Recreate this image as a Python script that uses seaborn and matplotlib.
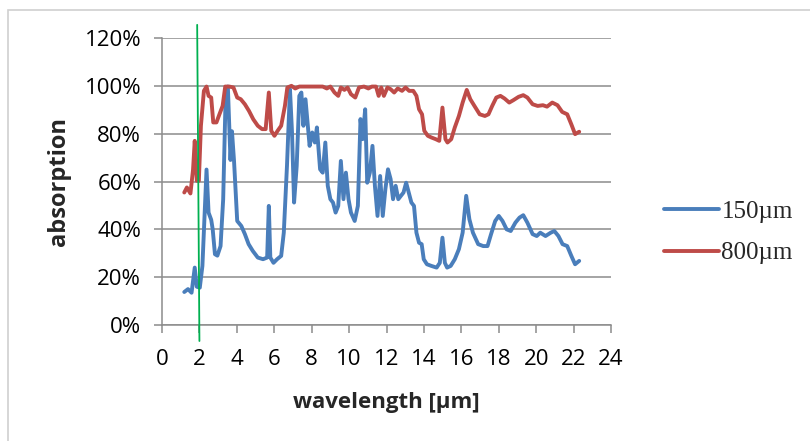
import numpy as np
import pandas as pd
import matplotlib
matplotlib.use("Agg")
import matplotlib.pyplot as plt
import seaborn as sns
from matplotlib.ticker import PercentFormatter, MultipleLocator
from matplotlib.patches import Rectangle

# ------------------------------
# Data
# ------------------------------
wl_150 = [1.19, 1.39, 1.58, 1.75, 1.86, 2.02, 2.16, 2.38, 2.49, 2.63, 2.71, 2.83, 2.96,
          3.13, 3.27, 3.41, 3.52, 3.66, 3.74, 3.85, 4.02, 4.24, 4.43, 4.63, 4.85, 5.12,
          5.40, 5.62, 5.71, 5.79, 5.96, 6.15, 6.37, 6.51, 6.68, 6.84, 6.95, 7.06, 7.20,
          7.34, 7.45, 7.56, 7.67, 7.81, 7.89, 8.03, 8.17, 8.28, 8.45, 8.59, 8.73, 8.86,
          9.00, 9.14, 9.28, 9.42, 9.56, 9.70, 9.83, 9.97, 10.10, 10.30, 10.47, 10.61,
          10.72, 10.86, 10.97, 11.11, 11.25, 11.38, 11.52, 11.66, 11.80, 11.94, 12.08,
          12.22, 12.35, 12.49, 12.63, 12.77, 12.91, 13.05, 13.19, 13.33, 13.47, 13.60,
          13.74, 13.88, 13.99, 14.16, 14.40, 14.68, 14.85, 14.99, 15.12, 15.24, 15.43,
          15.65, 15.87, 16.07, 16.26, 16.43, 16.62, 16.90, 17.17, 17.40, 17.59, 17.81,
          18.00, 18.20, 18.42, 18.64, 18.89, 19.11, 19.31, 19.53, 19.81, 20.03, 20.22,
          20.50, 20.78, 20.97, 21.19, 21.41, 21.66, 21.88, 22.08, 22.30]
abs_150 = [13.8, 15.0, 13.5, 24.0, 16.0, 15.6, 24.7, 65.0, 47.0, 44.0, 40.0, 29.6, 29.0,
           33.0, 52.6, 98.6, 99.7, 69.0, 81.0, 68.6, 43.5, 41.4, 38.0, 33.8, 31.0, 28.2,
           27.5, 28.2, 49.8, 28.2, 26.0, 27.5, 28.9, 38.6, 66.5, 98.6, 80.5, 51.2, 66.5,
           95.8, 97.2, 83.3, 94.4, 81.9, 74.9, 80.5, 76.3, 82.6, 65.1, 63.7, 76.3, 58.2,
           52.6, 51.2, 47.0, 49.8, 68.6, 52.6, 63.7, 52.6, 47.0, 43.5, 49.8, 86.1,
           77.7, 90.2, 59.5, 63.7, 74.9, 58.2, 45.6, 62.3, 45.6, 56.8, 65.1,
           61.0, 52.6, 58.2, 52.6, 54.0, 55.4, 59.5, 55.4, 51.2, 49.8, 38.6,
           34.4, 33.8, 27.5, 25.4, 24.7, 24.0, 26.0, 36.5, 26.0, 24.0, 24.7,
           27.5, 31.7, 38.6, 54.0, 44.2, 38.6, 33.8, 33.0, 33.0, 38.0, 43.5,
           45.6, 43.5, 40.0, 39.3, 42.8, 44.9, 45.9, 42.8, 38.0, 37.2, 38.6,
           37.2, 38.6, 39.3, 37.2, 33.8, 33.0, 28.9, 25.4, 26.8]

wl_800 = [1.19, 1.33, 1.52, 1.66, 1.75, 1.86, 1.97, 2.08, 2.24, 2.38, 2.49, 2.63, 2.74,
          2.91, 3.07, 3.24, 3.38, 3.60, 3.82, 4.02, 4.21, 4.43, 4.65, 4.88, 5.12, 5.35,
          5.54, 5.71, 5.84, 6.01, 6.18, 6.37, 6.57, 6.70, 6.92, 7.12, 7.34, 7.76, 8.17,
          8.59, 8.81, 9.00, 9.22, 9.42, 9.56, 9.75, 9.92, 10.10, 10.33, 10.53, 10.80,
          11.03, 11.22, 11.44, 11.58, 11.72, 11.86, 12.05, 12.22, 12.41, 12.60, 12.83,
          13.02, 13.21, 13.43, 13.60, 13.74, 13.90, 14.02, 14.21, 14.40, 14.63, 14.82,
          14.99, 15.15, 15.26, 15.46, 15.65, 15.87, 16.07, 16.29, 16.48, 16.70, 16.98,
          17.26, 17.45, 17.65, 17.87, 18.09, 18.31, 18.56, 18.78, 19.06, 19.31, 19.53,
          19.81, 20.08, 20.36, 20.58, 20.86, 21.14, 21.39, 21.66, 21.88, 22.08, 22.30]
abs_800 = [55.4, 57.5, 55.0, 65.0, 77.0, 60.3, 60.3, 83.3, 97.9, 99.7, 95.8, 95.1, 84.7,
           84.7, 88.1, 91.6, 99.7, 99.7, 99.3, 95.1, 94.4, 92.3, 89.5, 86.0, 83.3, 81.9,
           81.9, 97.2, 81.2, 79.1, 81.2, 83.3, 91.6, 99.3, 100.0, 98.9, 99.7, 99.7, 99.7,
           99.7, 98.9, 99.7, 97.2, 95.8, 99.3, 98.3, 99.3, 96.5, 95.1, 99.3, 99.7,
           98.9, 99.7, 99.7, 95.8, 99.3, 95.8, 99.3, 98.6, 97.2, 98.9, 97.9,
           99.3, 97.9, 97.9, 95.8, 90.2, 88.1, 81.2, 79.1, 78.4, 77.7, 77.0,
           90.9, 77.7, 76.3, 77.7, 82.6, 87.4, 93.0, 98.3, 94.4, 91.6, 88.1,
           87.4, 88.1, 91.6, 95.1, 95.8, 94.7, 93.0, 94.0, 95.4, 96.1, 95.1,
           92.3, 91.6, 91.9, 91.3, 93.0, 91.9, 89.1, 88.1, 83.9, 79.8, 80.8]

series_labels = ["150\u00b5m", "800\u00b5m"]
series_colors = ["#4A7EBB", "#BE4B48"]

df = pd.concat([
    pd.DataFrame({"wavelength": wl_150, "absorption": abs_150, "sample": series_labels[0]}),
    pd.DataFrame({"wavelength": wl_800, "absorption": abs_800, "sample": series_labels[1]}),
], ignore_index=True)

# ------------------------------
# Figure
# ------------------------------
sns.set_theme(style="white")
plt.rcParams["font.family"] = ["Open Sans", "DejaVu Sans"]

fig = plt.figure(figsize=(8.1, 4.41), dpi=100)
ax = fig.add_axes([162 / 810, 1 - 325 / 441, (611 - 162) / 810, (325 - 38) / 441])

# outer chart border (only top/left visible in the reference)
fig.patches.append(Rectangle((8 / 810, -0.1), 1.2, 1 - 10 / 441 + 0.1,
                             transform=fig.transFigure, fill=False,
                             edgecolor="#D0D0D0", linewidth=1.2))

sns.lineplot(data=df, x="wavelength", y="absorption", hue="sample",
             palette=dict(zip(series_labels, series_colors)), estimator=None,
             sort=False, linewidth=2.8, ax=ax, legend=True)

ax.set_xlim(0, 24)
ax.set_ylim(0, 120)
ax.xaxis.set_major_locator(MultipleLocator(2))
ax.yaxis.set_major_locator(MultipleLocator(20))
ax.yaxis.set_major_formatter(PercentFormatter(100, decimals=0))

ax.grid(axis="y", color="#8C8C8C", linewidth=1.1)
ax.grid(axis="x", visible=False)
ax.set_axisbelow(True)
for side in ["top", "right"]:
    ax.spines[side].set_visible(False)
for side in ["left", "bottom"]:
    ax.spines[side].set_color("#8C8C8C")
    ax.spines[side].set_linewidth(1.1)

ax.tick_params(axis="both", which="major", direction="out", length=6, width=1.1,
               color="#8C8C8C", labelsize=16, labelcolor="#000000")
ax.tick_params(axis="y", pad=9, left=True)
ax.tick_params(axis="x", pad=11, bottom=True)

ax.set_xlabel("wavelength [\u00b5m]", fontsize=16, fontweight="bold", labelpad=16)
ax.set_ylabel("absorption", fontsize=17, fontweight="bold", labelpad=10)

# green marker line near 2 µm
ax.plot([1.88, 2.0], [125.5, -6.7], color="#00B050", linewidth=1.3, clip_on=False, zorder=5)

handles, labels = ax.get_legend_handles_labels()
ax.legend(handles, labels, loc="center left", bbox_to_anchor=(1.118, 0.322),
          borderaxespad=0, borderpad=0, frameon=False, handlelength=2.2,
          labelspacing=0.75, handletextpad=0.1,
          prop={"family": "Liberation Serif", "size": 18})

fig.savefig("out.png", dpi=100)
